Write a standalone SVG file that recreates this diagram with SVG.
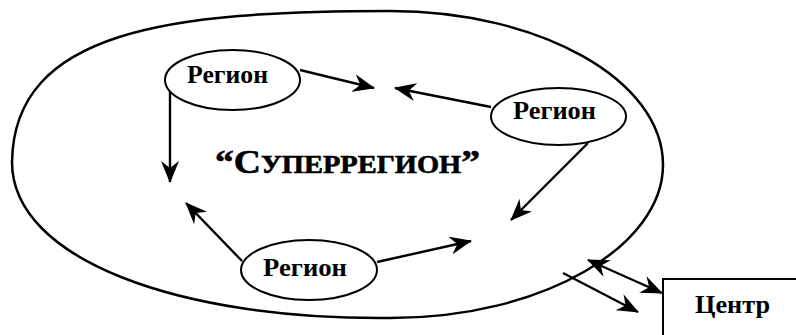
<svg xmlns="http://www.w3.org/2000/svg" width="796" height="335" viewBox="0 0 796 335">
<style>
.outline{fill:none;stroke:#000;stroke-width:2.5}
.node{fill:#fff;stroke:#000;stroke-width:2}
.lbl{font-family:"Liberation Serif","Times New Roman",serif;font-weight:bold;font-size:25px;fill:#000}
.title{font-family:"Liberation Serif","Times New Roman",serif;font-weight:bold;fill:#000;stroke:#000;stroke-width:0.6}
.conn line{stroke:#000;stroke-width:2.4;fill:none}
</style>
<defs>
<marker id="ah" viewBox="0 0 22 18" refX="21" refY="9" markerWidth="22" markerHeight="18" markerUnits="userSpaceOnUse" orient="auto-start-reverse">
<path d="M0,0 L22,9 L0,18 L7,9 Z" fill="#000"/>
</marker>
</defs>
<rect width="796" height="335" fill="#fff"/>
<g id="superregion">
<path class="outline" d="M12,162 C14,30 170,11 390,11 C540,11 663,80 663,165 C663,245 545,318 390,318 C180,320 12,260 12,162 Z"/>
<text class="title" x="215" y="173" textLength="265" lengthAdjust="spacingAndGlyphs"><tspan font-size="33">“С</tspan><tspan font-size="25">УПЕРРЕГИОН</tspan><tspan font-size="33">”</tspan></text>
</g>
<g id="region1">
<ellipse class="node" cx="232.5" cy="80" rx="67.5" ry="30"/>
<text class="lbl" x="187" y="83" textLength="81" lengthAdjust="spacingAndGlyphs">Регион</text>
</g>
<g id="region2">
<ellipse class="node" cx="558.5" cy="116.5" rx="67.5" ry="28.5"/>
<text class="lbl" x="513" y="119" textLength="83" lengthAdjust="spacingAndGlyphs">Регион</text>
</g>
<g id="region3">
<ellipse class="node" cx="309" cy="270" rx="68" ry="30"/>
<text class="lbl" x="263" y="276" textLength="84" lengthAdjust="spacingAndGlyphs">Регион</text>
</g>
<g id="center">
<path d="M798,279 L663,279 L663,337" fill="#fff" stroke="#000" stroke-width="2"/>
<text class="lbl" x="695" y="313" textLength="75" lengthAdjust="spacingAndGlyphs">Центр</text>
</g>
<g id="connectors" class="conn">
<line x1="170" y1="91" x2="170" y2="182" marker-end="url(#ah)"/>
<line x1="300" y1="70" x2="374" y2="88" marker-end="url(#ah)"/>
<line x1="491" y1="107" x2="395" y2="88" marker-end="url(#ah)"/>
<line x1="588" y1="143" x2="511" y2="220" marker-end="url(#ah)"/>
<line x1="242" y1="261" x2="186" y2="203" marker-end="url(#ah)"/>
<line x1="377" y1="262" x2="471" y2="241" marker-end="url(#ah)"/>
<line x1="588" y1="260" x2="662" y2="293" marker-start="url(#ah)" marker-end="url(#ah)"/>
<line x1="563" y1="273" x2="638" y2="312" marker-end="url(#ah)"/>
</g>
</svg>
